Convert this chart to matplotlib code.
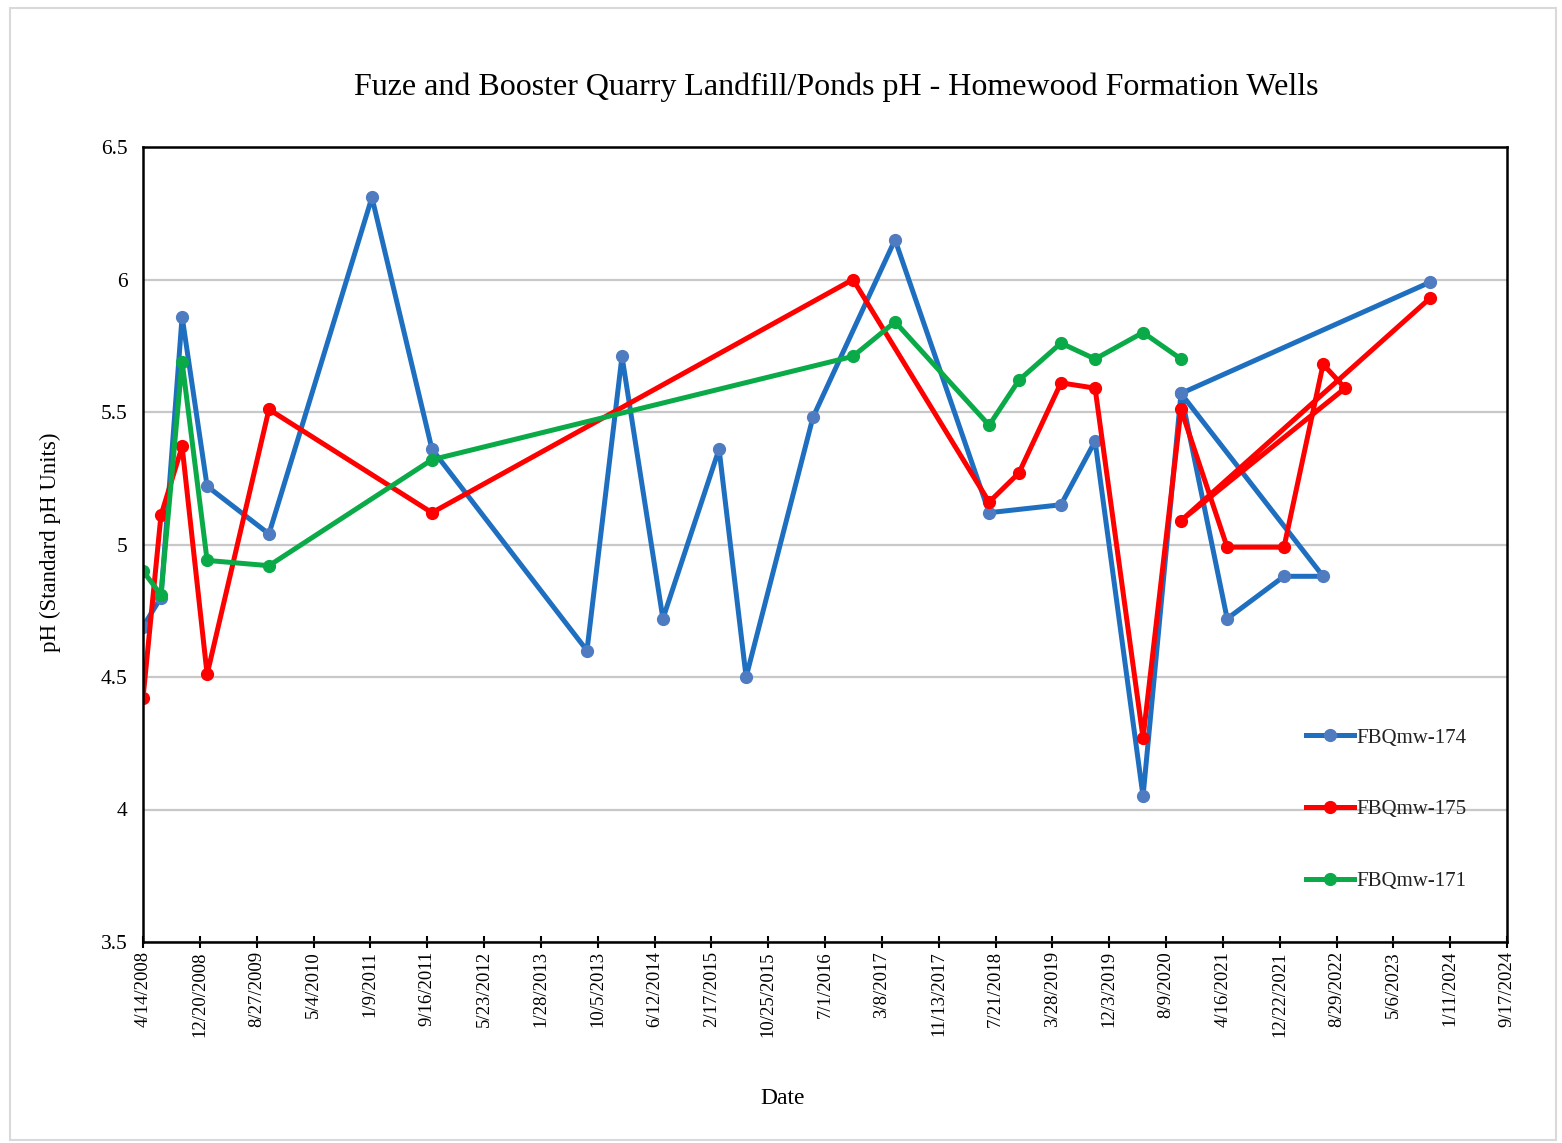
import matplotlib
matplotlib.use("Agg")
import matplotlib.pyplot as plt
from matplotlib.patches import Rectangle
import pandas as pd

# ---------------- data ----------------
dates_174 = ["2008-04-14", "2008-07-02", "2008-10-03", "2009-01-21", "2009-10-20",
             "2011-01-16", "2011-10-07", "2013-08-19", "2014-01-20", "2014-07-19",
             "2015-03-23", "2015-07-20", "2016-05-09", "2017-05-05", "2018-06-23",
             "2019-05-05", "2019-10-02", "2020-04-30", "2020-10-14", "2021-05-05",
             "2022-01-10", "2022-07-01", "2020-10-14", "2023-10-15"]
ph_174 = [4.69, 4.80, 5.86, 5.22, 5.04, 6.31, 5.36, 4.60, 5.71, 4.72,
          5.36, 4.50, 5.48, 6.15, 5.12, 5.15, 5.39, 4.05, 5.57, 4.72,
          4.88, 4.88, 5.57, 5.99]

dates_175 = ["2008-04-14", "2008-07-02", "2008-10-03", "2009-01-21", "2009-10-20",
             "2011-10-07", "2016-11-01", "2018-06-23", "2018-11-01", "2019-05-05",
             "2019-10-02", "2020-04-30", "2020-10-14", "2021-05-05", "2022-01-10",
             "2022-07-01", "2022-10-06", "2020-10-14", "2023-10-15"]
ph_175 = [4.42, 5.11, 5.37, 4.51, 5.51, 5.12, 6.00, 5.16, 5.27, 5.61,
          5.59, 4.27, 5.51, 4.99, 4.99, 5.68, 5.59, 5.09, 5.93]

dates_171 = ["2008-04-14", "2008-07-02", "2008-10-03", "2009-01-21", "2009-10-20",
             "2011-10-07", "2016-11-01", "2017-05-05", "2018-06-23", "2018-11-01",
             "2019-05-05", "2019-10-02", "2020-04-30", "2020-10-14"]
ph_171 = [4.90, 4.81, 5.69, 4.94, 4.92, 5.32, 5.71, 5.84, 5.45, 5.62,
          5.76, 5.70, 5.80, 5.70]

series_names = ["FBQmw-174", "FBQmw-175", "FBQmw-171"]
tick_start = "2008-04-14"
tick_step_days = 250
tick_count = 25
y_ticks = [3.5, 4, 4.5, 5, 5.5, 6, 6.5]
y_tick_labels = ["3.5", "4", "4.5", "5", "5.5", "6", "6.5"]

title = "Fuze and Booster Quarry Landfill/Ponds pH - Homewood Formation Wells"
xlabel = "Date"
ylabel = "pH (Standard pH Units)"

# ---------------- figure ----------------
plt.rcParams["font.family"] = ["Liberation Serif", "DejaVu Serif"]

W, H = 1562, 1143
fig = plt.figure(figsize=(W / 100, H / 100), dpi=100)
fig.patch.set_facecolor("white")

# outer chart border
fig.patches.append(Rectangle((10 / W, 1 - 1140 / H), (1556 - 10) / W, (1140 - 8) / H,
                             transform=fig.transFigure, fill=False,
                             edgecolor="#D9D9D9", linewidth=1.5))

L, R, T, B = 143, 1507, 147, 942
ax = fig.add_axes([L / W, 1 - B / H, (R - L) / W, (B - T) / H])

styles = [
    dict(color="#1F6FC1", mfc="#4F7BC0", mec="#4F7BC0"),
    dict(color="#FF0000", mfc="#FF0000", mec="#FF0000"),
    dict(color="#0BAA48", mfc="#0BAA48", mec="#0BAA48"),
]
all_series = [(dates_174, ph_174), (dates_175, ph_175), (dates_171, ph_171)]
for (d, v), name, st in zip(all_series, series_names, styles):
    ax.plot(pd.to_datetime(d), v, linestyle="-", linewidth=3.6,
            marker="o", markersize=8.5, label=name, **st)

start = pd.Timestamp(tick_start)
ticks = [start + pd.Timedelta(days=tick_step_days * k) for k in range(tick_count)]
ax.set_xlim(ticks[0], ticks[-1])
ax.set_ylim(y_ticks[0], y_ticks[-1])

ax.set_xticks(ticks)
ax.set_xticklabels([f"{t.month}/{t.day}/{t.year}" for t in ticks],
                   rotation=90, fontsize=13.5)
ax.set_yticks(y_ticks)
ax.set_yticklabels(y_tick_labels, fontsize=15.5)

ax.tick_params(axis="x", direction="inout", length=9, width=1.5, pad=2)
ax.tick_params(axis="y", length=0, pad=11)

for s in ax.spines.values():
    s.set_linewidth(1.8)
    s.set_color("black")

ax.yaxis.grid(True, color="#C8C8C8", linewidth=1.6)
ax.set_axisbelow(True)

fig.text(836 / W, 1 - 87 / H, title, ha="center", va="center", fontsize=23)
fig.text(783 / W, 1 - 1099 / H, xlabel, ha="center", va="center", fontsize=17)
fig.text(50 / W, 1 - 542 / H, ylabel, ha="center", va="center",
         rotation=90, fontsize=16.5)

leg = ax.legend(loc="upper left",
                bbox_to_anchor=((1306 - L) / (R - L), (B - 728) / (B - T)),
                frameon=False, fontsize=15, borderpad=0, borderaxespad=0,
                handlelength=2.3, handletextpad=0.12, labelspacing=2.5)
for t in leg.get_texts():
    t.set_color("#222222")

fig.savefig("out.png", dpi=100, facecolor="white")
